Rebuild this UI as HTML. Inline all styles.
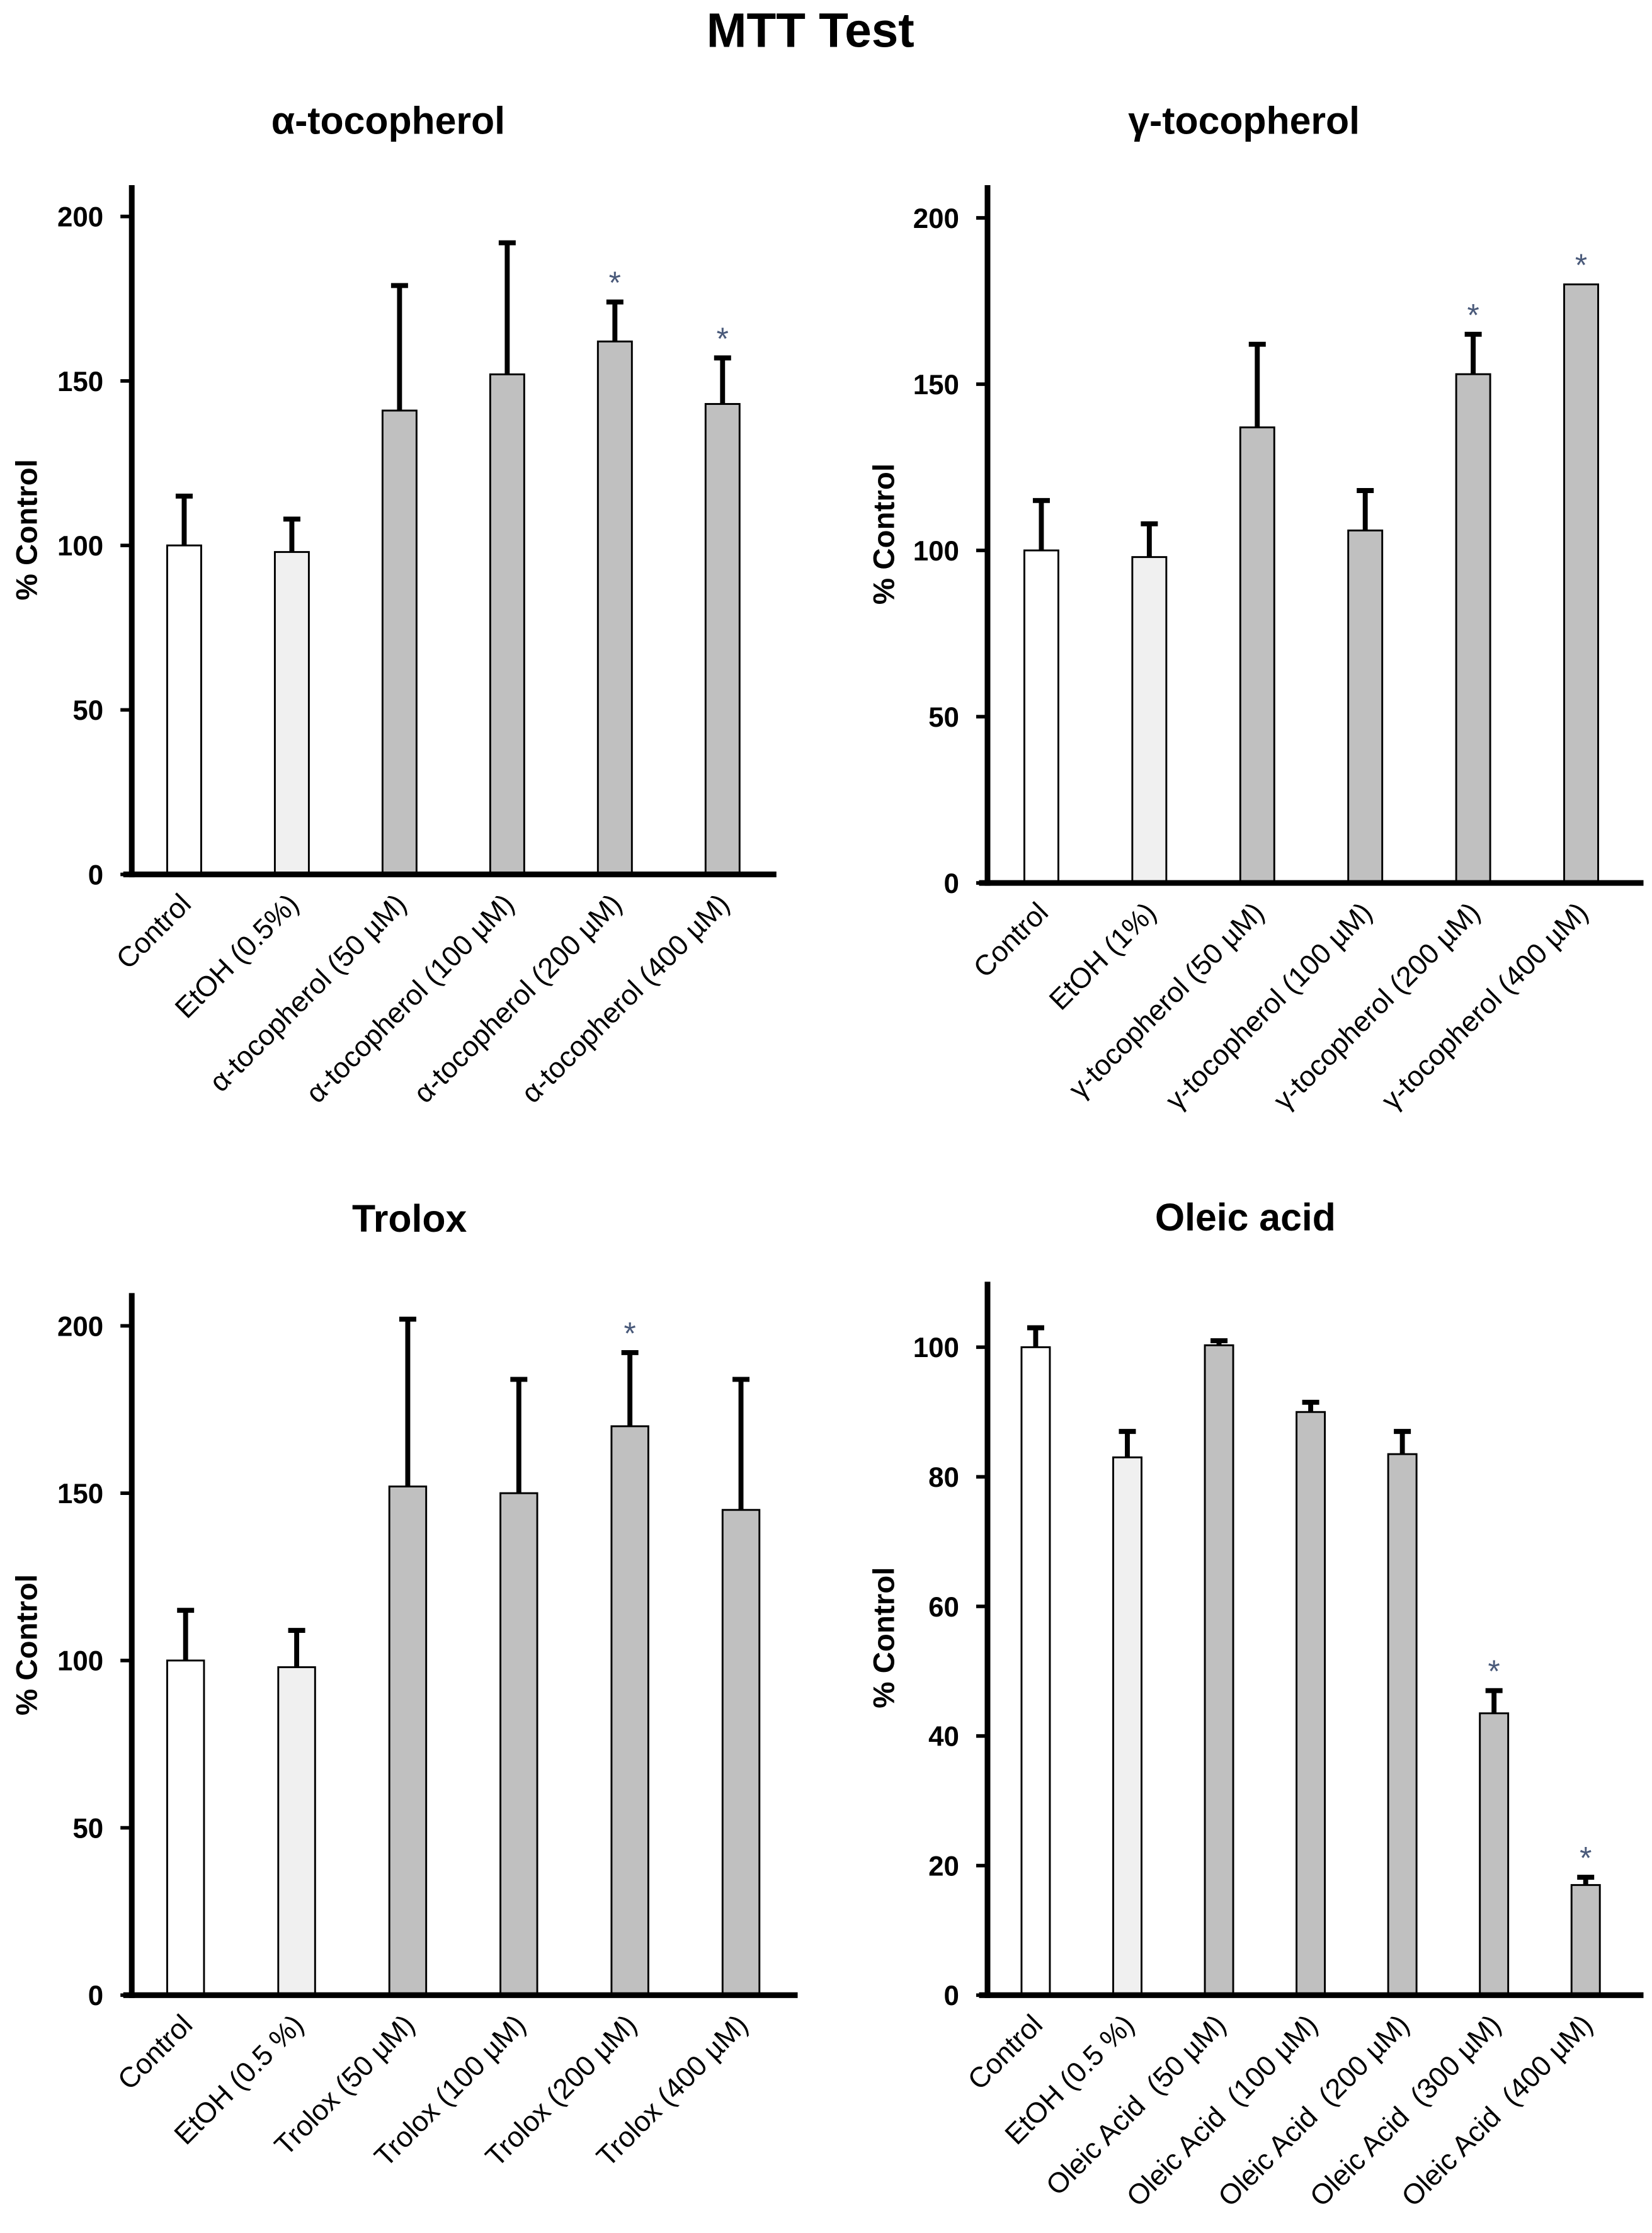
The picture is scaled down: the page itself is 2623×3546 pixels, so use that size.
<!DOCTYPE html>
<html><head><meta charset="utf-8"><style>
html,body{margin:0;padding:0;background:#fff}
svg{display:block}
text{font-family:"Liberation Sans",sans-serif;white-space:pre}
</style></head><body>
<svg id="fig" xmlns="http://www.w3.org/2000/svg" width="2623" height="3546" viewBox="0 0 1166 1568" preserveAspectRatio="none">
<text x="572" y="33" text-anchor="middle" font-size="34" font-weight="bold">MTT Test</text>
</svg>
<script>
// Panel A: alpha-tocopherol
const aCategories = ["Control","EtOH (0.5%)","α-tocopherol (50 µM)","α-tocopherol (100 µM)","α-tocopherol (200 µM)","α-tocopherol (400 µM)"];
const aValues = [100,98,141,152,162,143];
const aErrTop = [115,108,179,192,174,157];
const aStars = [false,false,false,false,true,true];
const aTicks = [0,50,100,150,200];
// Panel B: gamma-tocopherol
const bCategories = ["Control","EtOH (1%)","γ-tocopherol (50 µM)","γ-tocopherol (100 µM)","γ-tocopherol (200 µM)","γ-tocopherol (400 µM)"];
const bValues = [100,98,137,106,153,180];
const bErrTop = [115,108,162,118,165,180];
const bStars = [false,false,false,false,true,true];
const bTicks = [0,50,100,150,200];
// Panel C: Trolox
const cCategories = ["Control","EtOH (0.5 %)","Trolox (50 µM)","Trolox (100 µM)","Trolox (200 µM)","Trolox (400 µM)"];
const cValues = [100,98,152,150,170,145];
const cErrTop = [115,109,202,184,192,184];
const cStars = [false,false,false,false,true,false];
const cTicks = [0,50,100,150,200];
// Panel D: Oleic acid
const dCategories = ["Control","EtOH (0.5 %)","Oleic Acid  (50 µM)","Oleic Acid  (100 µM)","Oleic Acid  (200 µM)","Oleic Acid  (300 µM)","Oleic Acid  (400 µM)"];
const dValues = [100,83,100.3,90,83.5,43.5,17];
const dErrTop = [103,87,101,91.5,87,47,18.2];
const dStars = [false,false,false,false,false,true,true];
const dTicks = [0,20,40,60,80,100];

const NS="http://www.w3.org/2000/svg";
const svg=document.getElementById('fig');
function mk(tag,attrs,parent){const e=document.createElementNS(NS,tag);for(const k in attrs)e.setAttribute(k,attrs[k]);(parent||svg).appendChild(e);return e;}

function panel(cfg,cats,vals,errs,stars,ticks){
  const g=mk('g',{});
  
  
  const yMax=cfg.yMax;
  const y=v=>cfg.y0-(v/yMax)*(cfg.y0-cfg.yTop);
  const x=i=>cfg.x0+cfg.step*i;
  const t=mk('text',{x:cfg.titleX,y:cfg.titleY,'text-anchor':'middle','font-size':27,'font-weight':'bold'},g);
  t.textContent=cfg.title;
  
  
  const ya=mk('line',{x1:cfg.ax,y1:cfg.axTop,x2:cfg.ax,y2:cfg.y0+2,stroke:'#000','stroke-width':4},g);
  
  
  ticks.forEach(v=>{
    mk('line',{x1:cfg.ax-8,y1:y(v),x2:cfg.ax,y2:y(v),stroke:'#000','stroke-width':2.5},g);
    const tl=mk('text',{x:cfg.ax-20,y:y(v)+7,'text-anchor':'end','font-size':19.5,'font-weight':'bold'},g);
    tl.textContent=v;
    
    
  });
  const yl=mk('text',{x:0,y:0,'text-anchor':'middle','font-size':21,'font-weight':'bold',transform:`translate(${cfg.ylX},${cfg.ylY}) rotate(-90)`},g);
  yl.textContent='% Control';
  
  
  vals.forEach((v,i)=>{
    const cx=x(i);
    if(errs[i]>v){
      const eb=mk('path',{d:`M${cx},${y(v)} V${y(errs[i])} M${cx-6},${y(errs[i])} H${cx+6}`,stroke:'#000','stroke-width':3.5,fill:'none'},g);
      
      
    }
    const fill=i===0?'#ffffff':(i===1?'#f0f0f0':'#c0c0c0');
    const b=mk('rect',{x:cx-cfg.bw/2,y:y(v),width:cfg.bw,height:cfg.y0-y(v),fill:fill,stroke:'#000','stroke-width':1.3},g);
    
    
    if(stars[i]){
      const s=mk('text',{x:cx,y:y(Math.max(errs[i],v))-6,'text-anchor':'middle','font-size':22,fill:'#4a5a7a'},g);
      s.textContent='*';
      
      
    }
    const lx=cx+6, ly=cfg.y0+22;
    const lab=mk('text',{x:0,y:0,'text-anchor':'end','font-size':20,transform:`translate(${lx},${ly}) rotate(-45)`},g);
    lab.textContent=cats[i];
    
    
  });
  const xa=mk('line',{x1:cfg.ax-6,y1:cfg.y0,x2:cfg.axEnd,y2:cfg.y0,stroke:'#000','stroke-width':4},g);
  
  
}

panel({name:'panel-alpha-tocopherol',title:'α-tocopherol',titleX:274,titleY:94,ax:93,axTop:130,axEnd:548,y0:614,yTop:152,yMax:200,x0:130,step:76,bw:24,ylX:26,ylY:372},aCategories,aValues,aErrTop,aStars,aTicks);
panel({name:'panel-gamma-tocopherol',title:'γ-tocopherol',titleX:878,titleY:94,ax:697,axTop:130,axEnd:1160,y0:620,yTop:153,yMax:200,x0:735,step:76.2,bw:24,ylX:631,ylY:375},bCategories,bValues,bErrTop,bStars,bTicks);
panel({name:'panel-trolox',title:'Trolox',titleX:289,titleY:865,ax:93,axTop:908,axEnd:563,y0:1401,yTop:931,yMax:200,x0:131,step:78.4,bw:26,ylX:26,ylY:1155},cCategories,cValues,cErrTop,cStars,cTicks);
panel({name:'panel-oleic-acid',title:'Oleic acid',titleX:879,titleY:864,ax:697,axTop:900,axEnd:1160,y0:1401,yTop:946,yMax:100,x0:731,step:64.7,bw:20,ylX:631,ylY:1150},dCategories,dValues,dErrTop,dStars,dTicks);
</script>
</body></html>
